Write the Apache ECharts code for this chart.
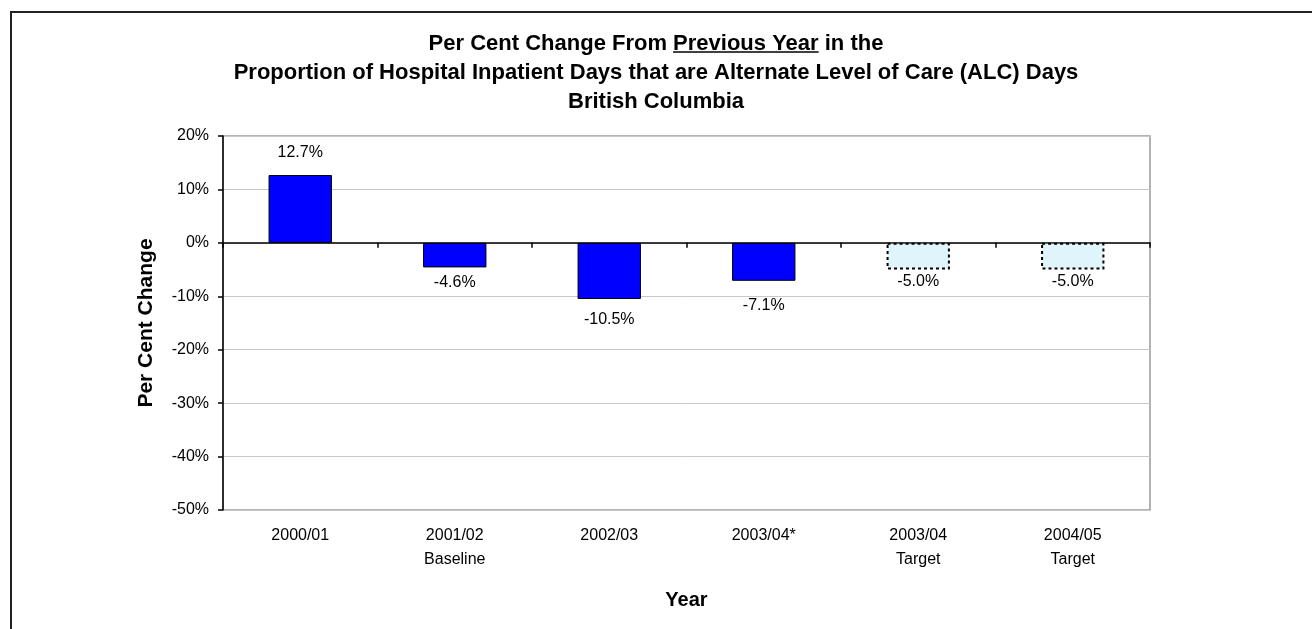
<!DOCTYPE html>
<html>
<head>
<meta charset="utf-8">
<title>ALC Days - Per Cent Change</title>
<script src="https://cdn.jsdelivr.net/npm/echarts@6/dist/echarts.min.js"></script>
<style>
  html, body { margin: 0; padding: 0; background: #fff; }
  #chart { width: 1312px; height: 629px; }
</style>
</head>
<body>
<div id="chart"></div>
<script>
// Fiscal years shown on the category axis
var categories = ['2000/01', '2001/02\nBaseline', '2002/03', '2003/04*', '2003/04\nTarget', '2004/05\nTarget'];
// Per cent change from the previous year, in percent
var values = [12.7, -4.6, -10.5, -7.1, -5.0, -5.0];
// Which bars are targets rather than actuals
var isTarget = [false, false, false, false, true, true];
// Value-axis range and step, in percent
var yMin = -50, yMax = 20, yStep = 10;

var titleLines = [
  ['Per Cent Change From ', 'Previous Year', ' in the'],
  ['Proportion of Hospital Inpatient Days that are Alternate Level of Care (ALC) Days'],
  ['British Columbia']
];

var FONT = '"Liberation Sans", Arial, Helvetica, sans-serif';
var W = 1312;
var TITLE_SIZE = 22;

// gap between each bar end and its value label
var labelGap = [14, 7, 13, 17, 4, 4];

var chart = echarts.init(document.getElementById('chart'), null, { renderer: 'canvas' });

var seriesData = values.map(function (v, i) {
  var target = isTarget[i];
  return {
    value: v,
    itemStyle: target
      ? { color: '#E0F4FC', borderColor: '#000', borderWidth: 2, borderType: [3, 3] }
      : { color: '#0000FF', borderColor: '#000', borderWidth: 1 },
    label: {
      position: v >= 0 ? 'top' : 'bottom',
      distance: labelGap[i]
    }
  };
});

// Measure the first title line so the "Previous Year" underline sits under its words
var measure = document.createElement('canvas').getContext('2d');
measure.font = 'bold ' + TITLE_SIZE + 'px ' + FONT;
var line1 = titleLines[0].join('');
var fullW = measure.measureText(line1).width;
var preW = measure.measureText(titleLines[0][0]).width;
var ulW = measure.measureText(titleLines[0][1]).width;
var ulX0 = W / 2 - fullW / 2 + preW;

var option = {
  animation: false,
  backgroundColor: '#fff',
  textStyle: { fontFamily: FONT },
  title: {
    text: titleLines.map(function (l) { return l.join(''); }).join('\n'),
    left: 'center',
    top: 24,
    textStyle: { fontFamily: FONT, fontSize: TITLE_SIZE, fontWeight: 'bold', color: '#000', lineHeight: 29 }
  },
  graphic: [
    {
      type: 'rect', silent: true, z: 0,
      shape: { x: 11, y: 12, width: 1400, height: 700 },
      style: { fill: null, stroke: '#222', lineWidth: 2 }
    },
    {
      type: 'line', silent: true,
      shape: { x1: ulX0, y1: 52, x2: ulX0 + ulW, y2: 52 },
      style: { stroke: '#000', lineWidth: 1.5 }
    }
  ],
  grid: {
    left: 223, right: 162, top: 136, bottom: 119,
    show: true, borderColor: '#9a9a9a', borderWidth: 1.5, backgroundColor: 'transparent'
  },
  xAxis: [
    {
      type: 'category',
      data: categories,
      position: 'bottom',
      axisLine: { show: false, onZero: false },
      axisTick: { show: false },
      axisLabel: { color: '#000', fontSize: 16, fontFamily: FONT, lineHeight: 24, margin: 14, interval: 0 },
      name: 'Year',
      nameLocation: 'middle',
      nameGap: 80,
      nameTextStyle: { fontSize: 20, fontWeight: 'bold', color: '#000', fontFamily: FONT }
    },
    {
      type: 'category',
      data: categories,
      position: 'top',
      axisLine: { show: true, onZero: true, lineStyle: { color: '#000', width: 1.5 } },
      axisTick: { show: true, inside: true, length: 5, lineStyle: { color: '#000', width: 1.5 } },
      axisLabel: { show: false },
      splitLine: { show: false }
    }
  ],
  yAxis: {
    type: 'value',
    min: yMin, max: yMax, interval: yStep,
    axisLine: { show: true, onZero: false, lineStyle: { color: '#000', width: 1.5 } },
    axisTick: { show: true, length: 5, lineStyle: { color: '#000', width: 1.5 } },
    axisLabel: { color: '#000', fontSize: 16, fontFamily: FONT, margin: 14, formatter: '{value}%' },
    splitLine: { show: true, lineStyle: { color: '#c8c8c8', width: 1 } },
    name: 'Per Cent Change',
    nameLocation: 'middle',
    nameGap: 66,
    nameTextStyle: { fontSize: 21, fontWeight: 'bold', color: '#000', fontFamily: FONT }
  },
  series: [
    {
      type: 'bar',
      xAxisIndex: 0,
      data: seriesData,
      barWidth: '41%',
      z: 1,
      label: {
        show: true,
        color: '#000',
        fontSize: 16,
        fontFamily: FONT,
        formatter: function (p) { return p.value.toFixed(1) + '%'; }
      }
    }
  ]
};

chart.setOption(option);
</script>
</body>
</html>
